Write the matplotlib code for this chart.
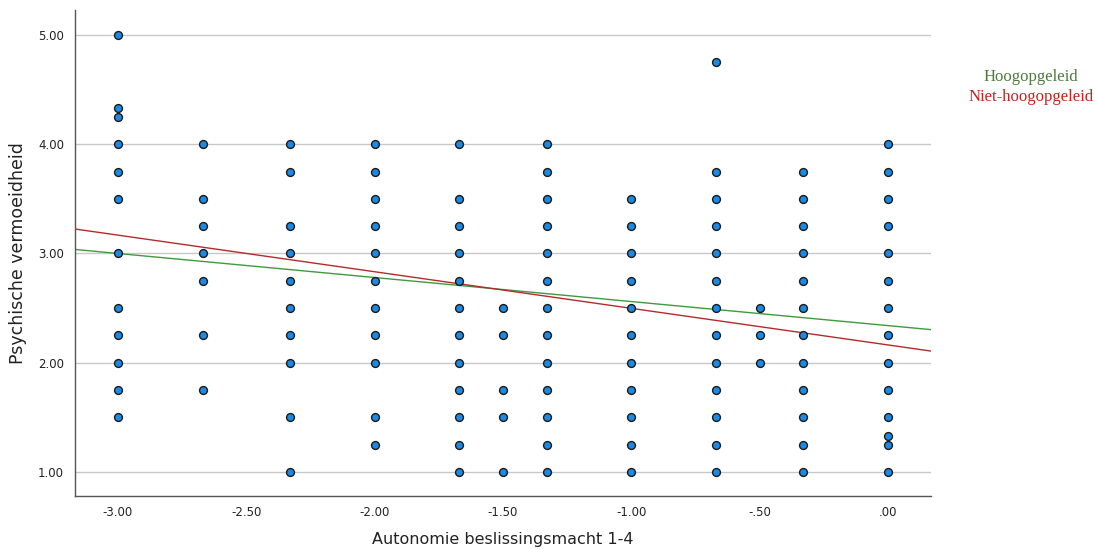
import matplotlib.pyplot as plt
import numpy as np

# x value per column and the y values found in that column
x_columns = [-3.00, -2.67, -2.33, -2.00, -1.67, -1.50, -1.33, -1.00, -0.67, -0.50, -0.33, 0.00]
y_columns = [
    [5.00, 4.33, 4.25, 4.00, 3.75, 3.50, 3.00, 2.50, 2.25, 2.00, 1.75, 1.50],
    [4.00, 3.50, 3.25, 3.00, 2.75, 2.25, 1.75],
    [4.00, 3.75, 3.25, 3.00, 2.75, 2.50, 2.25, 2.00, 1.50, 1.00],
    [4.00, 3.75, 3.50, 3.25, 3.00, 2.75, 2.50, 2.25, 2.00, 1.50, 1.25],
    [4.00, 3.50, 3.25, 3.00, 2.75, 2.50, 2.25, 2.00, 1.75, 1.50, 1.25, 1.00],
    [2.50, 2.25, 1.75, 1.50, 1.00],
    [4.00, 3.75, 3.50, 3.25, 3.00, 2.75, 2.50, 2.25, 2.00, 1.75, 1.50, 1.25, 1.00],
    [3.50, 3.25, 3.00, 2.75, 2.50, 2.25, 2.00, 1.75, 1.50, 1.25, 1.00],
    [4.75, 3.75, 3.50, 3.25, 3.00, 2.75, 2.50, 2.25, 2.00, 1.75, 1.50, 1.25, 1.00],
    [2.50, 2.25, 2.00],
    [3.75, 3.50, 3.25, 3.00, 2.75, 2.50, 2.25, 2.00, 1.75, 1.50, 1.25, 1.00],
    [4.00, 3.75, 3.50, 3.25, 3.00, 2.75, 2.50, 2.25, 2.00, 1.75, 1.50, 1.33, 1.25, 1.00],
]

# fit lines per group (intercept at x=0, slope)
groups = ["Hoogopgeleid", "Niet-hoogopgeleid"]
intercepts = [2.34, 2.163]
slopes = [-0.22, -0.335]
line_colors = ["#3f9a3f", "#b52a2a"]
label_colors = ["#4d7a3c", "#c82020"]

xticks = [-3.0, -2.5, -2.0, -1.5, -1.0, -0.5, 0.0]
xticklabels = ["-3.00", "-2.50", "-2.00", "-1.50", "-1.00", "-.50", ".00"]
yticks = [1, 2, 3, 4, 5]
yticklabels = ["1.00", "2.00", "3.00", "4.00", "5.00"]

xs = np.concatenate([[x] * len(ys) for x, ys in zip(x_columns, y_columns)])
ys = np.concatenate(y_columns)

fig = plt.figure(figsize=(10.95, 5.49), dpi=100)
ax = fig.add_axes([75 / 1095, 1 - 496 / 549, (931 - 75) / 1095, (496 - 10) / 549])

xmin, xmax = -3.1675, 0.168
ax.set_xlim(xmin, xmax)
ax.set_ylim(0.78, 5.229)

for y in yticks:
    ax.axhline(y, color="#c8c8c8", lw=1, zorder=0)

xline = np.array([xmin, xmax])
for b, m, c in zip(intercepts, slopes, line_colors):
    ax.plot(xline, b + m * xline, color=c, lw=1, zorder=2)

ax.scatter(xs, ys, s=32, c="#1b8ae6", edgecolors="#1a1a1a", linewidths=1, zorder=3)

ax.set_xticks(xticks)
ax.set_xticklabels(xticklabels)
ax.set_yticks(yticks)
ax.set_yticklabels(yticklabels)
ax.tick_params(axis="x", length=0, labelsize=8.5, colors="#222222", pad=7)
ax.tick_params(axis="y", length=0, labelsize=8.5, colors="#222222", pad=8)

for s in ["top", "right"]:
    ax.spines[s].set_visible(False)
for s in ["left", "bottom"]:
    ax.spines[s].set_color("#555555")
    ax.spines[s].set_linewidth(1)

ax.set_xlabel("Autonomie beslissingsmacht 1-4", fontsize=11.5, color="#222222", labelpad=9.5)
ax.set_ylabel("Psychische vermoeidheid", fontsize=12.5, color="#222222", labelpad=8)

for i, (g, c) in enumerate(zip(groups, label_colors)):
    fig.text(1031 / 1095, 1 - (77 + 20 * i) / 549, g, color=c, fontsize=12,
             family="Liberation Serif", ha="center", va="center")

fig.savefig("out.png", dpi=100)
